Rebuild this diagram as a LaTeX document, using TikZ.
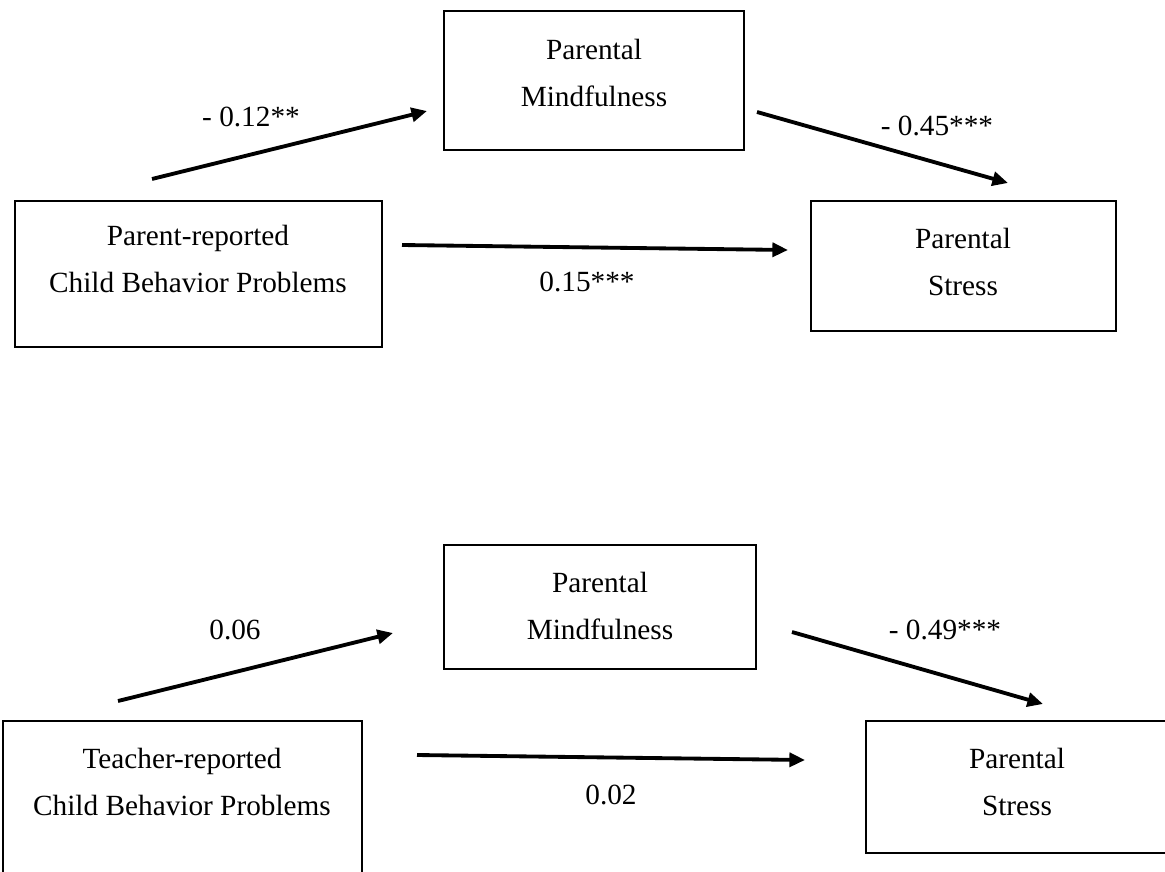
\documentclass[tikz,border=0pt]{standalone}
\usepackage{fontspec}
\setmainfont{Liberation Serif}
\usetikzlibrary{fit,arrows.meta}
\begin{document}
\begin{tikzpicture}[x=0.4167pt,y=-0.4167pt,
  box/.style={draw,line width=0.65pt,inner sep=0pt},
  txt/.style={align=center,inner sep=0pt,font=\fontsize{12.2}{19.9}\selectfont},
  lab/.style={inner sep=0pt,font=\fontsize{12.2}{14}\selectfont},
  arr/.style={line width=1.6pt,-{Triangle[length=6.5pt,width=5.8pt]}}]
\useasboundingbox (0,0) rectangle (1165,871);
\clip (0,0) rectangle (1165,871);
% ---------- top model ----------
\node[box,fit={(444,11)(744,150)}] (pm1) {};
\node[txt] (pm1t) at (594,73) {Parental\\Mindfulness};
\node[box,fit={(15,201)(382,347)}] (pr) {};
\node[txt] (prt) at (198,259) {Parent-reported\\Child Behavior Problems};
\node[box,fit={(811,201)(1116,331)}] (ps1) {};
\node[txt] (ps1t) at (963,262) {Parental\\Stress};
\coordinate (a1s) at (152,179); \coordinate (a1e) at (427,111);
\coordinate (a2s) at (757,112); \coordinate (a2e) at (1008,183);
\coordinate (a3s) at (402,245); \coordinate (a3e) at (788,250);
\draw[arr] (a1s) -- (a1e);
\draw[arr] (a2s) -- (a2e);
\draw[arr] (a3s) -- (a3e);
\node[lab] (l1) at (251,117) {- 0.12**};
\node[lab] (l2) at (937,126) {- 0.45***};
\node[lab] (l3) at (587,282) {0.15***};
% ---------- bottom model ----------
\node[box,fit={(444,545)(756,669)}] (pm2) {};
\node[txt] (pm2t) at (600,606) {Parental\\Mindfulness};
\node[box,fit={(3,721)(362,900)}] (tr) {};
\node[txt] (trt) at (182,782) {Teacher-reported\\Child Behavior Problems};
\node[box,fit={(866,721)(1168,853)}] (ps2) {};
\node[txt] (ps2t) at (1017,782) {Parental\\Stress};
\coordinate (b1s) at (118,701); \coordinate (b1e) at (393,633);
\coordinate (b2s) at (792,632); \coordinate (b2e) at (1043,704);
\coordinate (b3s) at (417,755); \coordinate (b3e) at (805,760);
\draw[arr] (b1s) -- (b1e);
\draw[arr] (b2s) -- (b2e);
\draw[arr] (b3s) -- (b3e);
\node[lab] (m1) at (235,630) {0.06};
\node[lab] (m2) at (945,630) {- 0.49***};
\node[lab] (m3) at (611,795) {0.02};
\end{tikzpicture}
\end{document}
